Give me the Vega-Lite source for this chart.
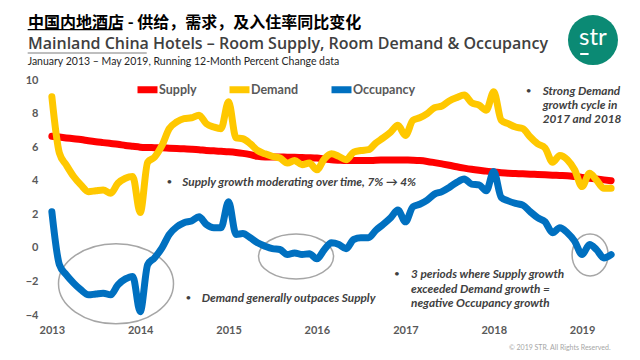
{
  "$schema": "https://vega.github.io/schema/vega-lite/v6.json",
  "width": 567,
  "height": 235,
  "autosize": "none",
  "padding": {"left": 48, "top": 80, "right": 25, "bottom": 45},
  "background": "white",
  "title": {
    "text": "中国内地酒店 - 供给，需求，及入住率同比变化",
    "subtitle": "Mainland China Hotels – Room Supply, Room Demand & Occupancy",
    "anchor": "start",
    "frame": "group",
    "dx": -20,
    "offset": -37,
    "font": "Noto Sans CJK SC",
    "fontSize": 16,
    "fontWeight": "bold",
    "color": "#000000",
    "subtitleFont": "Open Sans",
    "subtitleFontSize": 16,
    "subtitleFontWeight": 600,
    "subtitleColor": "#404040",
    "subtitlePadding": 5
  },
  "config": {
    "view": {"stroke": null},
    "font": "Lato",
    "legend": {
      "orient": "none",
      "legendX": 86,
      "legendY": -4,
      "direction": "horizontal",
      "symbolType": "stroke",
      "symbolStrokeWidth": 7,
      "symbolSize": 400,
      "labelFont": "Lato",
      "labelFontSize": 12.5,
      "labelFontWeight": "bold",
      "labelColor": "#595959",
      "labelOffset": -2,
      "columnPadding": 18,
      "title": null
    }
  },
  "datasets": {
    "series": [
      {"date": "2013-01-01", "Supply": 6.65, "Demand": 9.0, "Occupancy": 2.15},
      {"date": "2013-02-01", "Supply": 6.6, "Demand": 5.65, "Occupancy": -1.0},
      {"date": "2013-03-01", "Supply": 6.55, "Demand": 4.95, "Occupancy": -1.6},
      {"date": "2013-04-01", "Supply": 6.5, "Demand": 4.25, "Occupancy": -2.1},
      {"date": "2013-05-01", "Supply": 6.45, "Demand": 3.75, "Occupancy": -2.5},
      {"date": "2013-06-01", "Supply": 6.38, "Demand": 3.35, "Occupancy": -2.8},
      {"date": "2013-07-01", "Supply": 6.32, "Demand": 3.4, "Occupancy": -2.75},
      {"date": "2013-08-01", "Supply": 6.27, "Demand": 3.45, "Occupancy": -2.7},
      {"date": "2013-09-01", "Supply": 6.22, "Demand": 3.25, "Occupancy": -2.8},
      {"date": "2013-10-01", "Supply": 6.17, "Demand": 3.85, "Occupancy": -2.2},
      {"date": "2013-11-01", "Supply": 6.1, "Demand": 4.15, "Occupancy": -1.85},
      {"date": "2013-12-01", "Supply": 6.05, "Demand": 4.25, "Occupancy": -1.7},
      {"date": "2014-01-01", "Supply": 6.0, "Demand": 2.1, "Occupancy": -3.8},
      {"date": "2014-02-01", "Supply": 5.98, "Demand": 5.1, "Occupancy": -1.0},
      {"date": "2014-03-01", "Supply": 5.97, "Demand": 5.4, "Occupancy": -0.6},
      {"date": "2014-04-01", "Supply": 5.96, "Demand": 6.1, "Occupancy": 0.0},
      {"date": "2014-05-01", "Supply": 5.94, "Demand": 7.1, "Occupancy": 0.8},
      {"date": "2014-06-01", "Supply": 5.92, "Demand": 7.5, "Occupancy": 1.25},
      {"date": "2014-07-01", "Supply": 5.9, "Demand": 7.7, "Occupancy": 1.5},
      {"date": "2014-08-01", "Supply": 5.88, "Demand": 7.75, "Occupancy": 1.6},
      {"date": "2014-09-01", "Supply": 5.85, "Demand": 7.9, "Occupancy": 1.85},
      {"date": "2014-10-01", "Supply": 5.8, "Demand": 7.4, "Occupancy": 1.4},
      {"date": "2014-11-01", "Supply": 5.78, "Demand": 7.2, "Occupancy": 1.2},
      {"date": "2014-12-01", "Supply": 5.75, "Demand": 7.1, "Occupancy": 1.2},
      {"date": "2015-01-01", "Supply": 5.72, "Demand": 8.7, "Occupancy": 2.75},
      {"date": "2015-02-01", "Supply": 5.68, "Demand": 6.55, "Occupancy": 0.8},
      {"date": "2015-03-01", "Supply": 5.63, "Demand": 6.5, "Occupancy": 0.85},
      {"date": "2015-04-01", "Supply": 5.55, "Demand": 6.2, "Occupancy": 0.6},
      {"date": "2015-05-01", "Supply": 5.45, "Demand": 5.8, "Occupancy": 0.3},
      {"date": "2015-06-01", "Supply": 5.42, "Demand": 5.6, "Occupancy": 0.1},
      {"date": "2015-07-01", "Supply": 5.42, "Demand": 5.45, "Occupancy": -0.05},
      {"date": "2015-08-01", "Supply": 5.42, "Demand": 5.35, "Occupancy": -0.1},
      {"date": "2015-09-01", "Supply": 5.4, "Demand": 5.05, "Occupancy": -0.4},
      {"date": "2015-10-01", "Supply": 5.4, "Demand": 5.2, "Occupancy": -0.3},
      {"date": "2015-11-01", "Supply": 5.38, "Demand": 4.95, "Occupancy": -0.4},
      {"date": "2015-12-01", "Supply": 5.37, "Demand": 5.05, "Occupancy": -0.35},
      {"date": "2016-01-01", "Supply": 5.35, "Demand": 4.65, "Occupancy": -0.65},
      {"date": "2016-02-01", "Supply": 5.3, "Demand": 5.3, "Occupancy": -0.1},
      {"date": "2016-03-01", "Supply": 5.25, "Demand": 5.6, "Occupancy": 0.3},
      {"date": "2016-04-01", "Supply": 5.22, "Demand": 5.45, "Occupancy": 0.2},
      {"date": "2016-05-01", "Supply": 5.2, "Demand": 5.25, "Occupancy": -0.05},
      {"date": "2016-06-01", "Supply": 5.2, "Demand": 5.7, "Occupancy": 0.5},
      {"date": "2016-07-01", "Supply": 5.2, "Demand": 5.8, "Occupancy": 0.6},
      {"date": "2016-08-01", "Supply": 5.2, "Demand": 5.85, "Occupancy": 0.6},
      {"date": "2016-09-01", "Supply": 5.22, "Demand": 6.25, "Occupancy": 1.05},
      {"date": "2016-10-01", "Supply": 5.23, "Demand": 6.55, "Occupancy": 1.4},
      {"date": "2016-11-01", "Supply": 5.24, "Demand": 6.9, "Occupancy": 1.8},
      {"date": "2016-12-01", "Supply": 5.24, "Demand": 7.3, "Occupancy": 2.25},
      {"date": "2017-01-01", "Supply": 5.23, "Demand": 6.7, "Occupancy": 1.55},
      {"date": "2017-02-01", "Supply": 5.22, "Demand": 7.6, "Occupancy": 2.45},
      {"date": "2017-03-01", "Supply": 5.2, "Demand": 7.75, "Occupancy": 2.6},
      {"date": "2017-04-01", "Supply": 5.15, "Demand": 8.0, "Occupancy": 2.85},
      {"date": "2017-05-01", "Supply": 5.08, "Demand": 8.35, "Occupancy": 3.2},
      {"date": "2017-06-01", "Supply": 5.0, "Demand": 8.45, "Occupancy": 3.35},
      {"date": "2017-07-01", "Supply": 4.92, "Demand": 8.75, "Occupancy": 3.6},
      {"date": "2017-08-01", "Supply": 4.83, "Demand": 8.95, "Occupancy": 3.9},
      {"date": "2017-09-01", "Supply": 4.75, "Demand": 9.1, "Occupancy": 4.1},
      {"date": "2017-10-01", "Supply": 4.68, "Demand": 8.65, "Occupancy": 3.8},
      {"date": "2017-11-01", "Supply": 4.62, "Demand": 8.5, "Occupancy": 3.75},
      {"date": "2017-12-01", "Supply": 4.57, "Demand": 8.2, "Occupancy": 3.4},
      {"date": "2018-01-01", "Supply": 4.52, "Demand": 9.3, "Occupancy": 4.55},
      {"date": "2018-02-01", "Supply": 4.48, "Demand": 7.6, "Occupancy": 3.0},
      {"date": "2018-03-01", "Supply": 4.45, "Demand": 7.4, "Occupancy": 2.8},
      {"date": "2018-04-01", "Supply": 4.43, "Demand": 7.2, "Occupancy": 2.65},
      {"date": "2018-05-01", "Supply": 4.41, "Demand": 7.1, "Occupancy": 2.55},
      {"date": "2018-06-01", "Supply": 4.39, "Demand": 6.6, "Occupancy": 2.15},
      {"date": "2018-07-01", "Supply": 4.37, "Demand": 6.2, "Occupancy": 1.8},
      {"date": "2018-08-01", "Supply": 4.35, "Demand": 5.95, "Occupancy": 1.55},
      {"date": "2018-09-01", "Supply": 4.33, "Demand": 5.1, "Occupancy": 0.9},
      {"date": "2018-10-01", "Supply": 4.31, "Demand": 5.5, "Occupancy": 1.2},
      {"date": "2018-11-01", "Supply": 4.29, "Demand": 5.25, "Occupancy": 0.9},
      {"date": "2018-12-01", "Supply": 4.25, "Demand": 4.65, "Occupancy": 0.4},
      {"date": "2019-01-01", "Supply": 4.2, "Demand": 3.65, "Occupancy": -0.4},
      {"date": "2019-02-01", "Supply": 4.15, "Demand": 4.45, "Occupancy": 0.2},
      {"date": "2019-03-01", "Supply": 4.1, "Demand": 4.05, "Occupancy": -0.1},
      {"date": "2019-04-01", "Supply": 4.05, "Demand": 3.55, "Occupancy": -0.6},
      {"date": "2019-05-01", "Supply": 4.0, "Demand": 3.55, "Occupancy": -0.4}
    ],
    "notes": [
      {"date": "2014-06-24", "value": 3.93, "label": "Supply growth moderating over time, 7% → 4%"},
      {"date": "2014-09-12", "value": -2.98, "label": "Demand generally outpaces Supply"},
      {"date": "2018-07-22", "value": 9.35, "label": "Strong Demand"},
      {"date": "2018-07-22", "value": 8.51, "label": "growth cycle in"},
      {"date": "2018-07-22", "value": 7.68, "label": "2017 and 2018"},
      {"date": "2017-01-24", "value": -1.55, "label": "3 periods where Supply growth"},
      {"date": "2017-01-24", "value": -2.44, "label": "exceeded Demand growth ="},
      {"date": "2017-01-24", "value": -3.27, "label": "negative Occupancy growth"}
    ],
    "bullets": [
      {"date": "2014-05-02", "value": 3.93},
      {"date": "2014-07-19", "value": -2.98},
      {"date": "2018-05-25", "value": 9.35},
      {"date": "2016-11-27", "value": -1.55}
    ]
  },
  "layer": [
    {
      "mark": {"type": "rule", "color": "#D9D9D9", "strokeWidth": 1},
      "encoding": {"y": {"datum": 0, "type": "quantitative", "title": null}}
    },
    {
      "data": {"values": [{"date": "2013-09-23", "value": -2.14}]},
      "mark": {"type": "point", "filled": false, "opacity": 1, "stroke": "#A6A6A6", "strokeWidth": 1.5, "size": 13225, "shape": "M-1,0A1,0.696,0,1,0,1,0A1,0.696,0,1,0,-1,0Z"},
      "encoding": {
        "x": {"field": "date", "type": "temporal", "title": null},
        "y": {"field": "value", "type": "quantitative", "title": null}
      }
    },
    {
      "data": {"values": [{"date": "2015-10-07", "value": -0.51}]},
      "mark": {"type": "point", "filled": false, "opacity": 1, "stroke": "#A6A6A6", "strokeWidth": 1.5, "size": 5625, "shape": "M-1,0A1,0.6,0,1,0,1,0A1,0.6,0,1,0,-1,0Z"},
      "encoding": {
        "x": {"field": "date", "type": "temporal", "title": null},
        "y": {"field": "value", "type": "quantitative", "title": null}
      }
    },
    {
      "data": {"values": [{"date": "2019-02-03", "value": -0.42}]},
      "mark": {"type": "point", "filled": false, "opacity": 1, "stroke": "#A6A6A6", "strokeWidth": 1.5, "size": 1764, "shape": "M-0.857,0A0.857,1,0,1,0,0.857,0A0.857,1,0,1,0,-0.857,0Z"},
      "encoding": {
        "x": {"field": "date", "type": "temporal", "title": null},
        "y": {"field": "value", "type": "quantitative", "title": null}
      }
    },
    {
      "data": {"name": "series"},
      "transform": [{"fold": ["Supply", "Demand", "Occupancy"], "as": ["series", "value"]}],
      "mark": {"type": "line", "strokeWidth": 7, "interpolate": "monotone", "strokeJoin": "round", "strokeCap": "round"},
      "encoding": {
        "x": {
          "field": "date", "type": "temporal", "title": null,
          "scale": {"type": "utc", "domain": [{"year": 2012, "month": 12, "date": 16, "utc": true}, {"year": 2019, "month": 5, "date": 17, "utc": true}]},
          "axis": {
            "values": [
              {"year": 2013, "month": 1, "date": 1, "utc": true},
              {"year": 2014, "month": 1, "date": 1, "utc": true},
              {"year": 2015, "month": 1, "date": 1, "utc": true},
              {"year": 2016, "month": 1, "date": 1, "utc": true},
              {"year": 2017, "month": 1, "date": 1, "utc": true},
              {"year": 2018, "month": 1, "date": 1, "utc": true},
              {"year": 2019, "month": 1, "date": 1, "utc": true}
            ],
            "tickCount": 20,
            "format": "%Y",
            "domain": false,
            "ticks": false,
            "grid": false,
            "labelPadding": 9,
            "labelFont": "Lato",
            "labelFontSize": 11,
            "labelFontWeight": "bold",
            "labelColor": "#595959",
            "labelFlush": false,
            "labelOverlap": false
          }
        },
        "y": {
          "field": "value", "type": "quantitative", "title": null,
          "scale": {"domain": [-4, 10], "nice": false, "zero": false},
          "axis": {
            "values": [-4, -2, 0, 2, 4, 6, 8, 10],
            "tickCount": 20,
            "format": "d",
            "domain": false,
            "ticks": false,
            "grid": false,
            "labelPadding": 10,
            "labelFont": "Lato",
            "labelFontSize": 11,
            "labelFontWeight": "bold",
            "labelColor": "#595959",
            "labelOverlap": false,
            "labelFlush": false
          }
        },
        "color": {
          "field": "series", "type": "nominal",
          "scale": {"domain": ["Supply", "Demand", "Occupancy"], "range": ["#FF0000", "#FFC800", "#0070C0"]},
          "legend": {}
        }
      }
    },
    {
      "data": {"name": "bullets"},
      "mark": {"type": "text", "text": "•", "align": "center", "baseline": "middle", "font": "Lato", "fontSize": 10, "color": "#404040"},
      "encoding": {
        "x": {"field": "date", "type": "temporal", "title": null},
        "y": {"field": "value", "type": "quantitative", "title": null}
      }
    },
    {
      "data": {"name": "notes"},
      "mark": {"type": "text", "align": "left", "baseline": "middle", "font": "Lato", "fontStyle": "italic", "fontWeight": "bold", "fontSize": 11.8, "color": "#404040"},
      "encoding": {
        "x": {"field": "date", "type": "temporal", "title": null},
        "y": {"field": "value", "type": "quantitative", "title": null},
        "text": {"field": "label"}
      }
    },
    {
      "data": {"values": [{"date": "2012-09-23", "value": 11.07, "label": "January 2013 – May 2019, Running 12-Month Percent Change data"}]},
      "mark": {"type": "text", "align": "left", "baseline": "middle", "font": "Lato", "fontSize": 10.5, "color": "#262626"},
      "encoding": {
        "x": {"field": "date", "type": "temporal", "title": null},
        "y": {"field": "value", "type": "quantitative", "title": null},
        "text": {"field": "label"}
      }
    },
    {
      "data": {"values": [{"start": "2012-09-23", "end": "2013-10-20", "value": 13.0}]},
      "mark": {"type": "rule", "color": "#000000", "strokeWidth": 1.2},
      "encoding": {
        "x": {"field": "start", "type": "temporal", "title": null},
        "x2": {"field": "end"},
        "y": {"field": "value", "type": "quantitative", "title": null}
      }
    },
    {
      "data": {"values": [{"start": "2012-09-23", "end": "2014-01-28", "value": 11.61}]},
      "mark": {"type": "rule", "color": "#7F7F7F", "strokeWidth": 1.2},
      "encoding": {
        "x": {"field": "start", "type": "temporal", "title": null},
        "x2": {"field": "end"},
        "y": {"field": "value", "type": "quantitative", "title": null}
      }
    },
    {
      "data": {"values": [{"date": "2019-02-15", "value": 12.38}]},
      "mark": {"type": "point", "shape": "circle", "filled": true, "opacity": 1, "color": "#0B8A74", "size": 2500},
      "encoding": {
        "x": {"field": "date", "type": "temporal", "title": null},
        "y": {"field": "value", "type": "quantitative", "title": null}
      }
    },
    {
      "data": {"values": [{"date": "2019-02-15", "value": 12.5, "label": "str"}]},
      "mark": {"type": "text", "align": "center", "baseline": "middle", "font": "Lato", "fontSize": 24, "color": "#FFFFFF"},
      "encoding": {
        "x": {"field": "date", "type": "temporal", "title": null},
        "y": {"field": "value", "type": "quantitative", "title": null},
        "text": {"field": "label"}
      }
    },
    {
      "data": {"values": [{"start": "2018-12-24", "end": "2019-01-28", "value": 11.55}]},
      "mark": {"type": "rule", "color": "#FFFFFF", "strokeWidth": 2},
      "encoding": {
        "x": {"field": "start", "type": "temporal", "title": null},
        "x2": {"field": "end"},
        "y": {"field": "value", "type": "quantitative", "title": null}
      }
    },
    {
      "data": {"values": [{"date": "2019-04-29", "value": -5.95, "label": "© 2019 STR. All Rights Reserved."}]},
      "mark": {"type": "text", "align": "right", "baseline": "middle", "font": "Lato", "fontSize": 7, "color": "#A6A6A6"},
      "encoding": {
        "x": {"field": "date", "type": "temporal", "title": null},
        "y": {"field": "value", "type": "quantitative", "title": null},
        "text": {"field": "label"}
      }
    }
  ]
}
